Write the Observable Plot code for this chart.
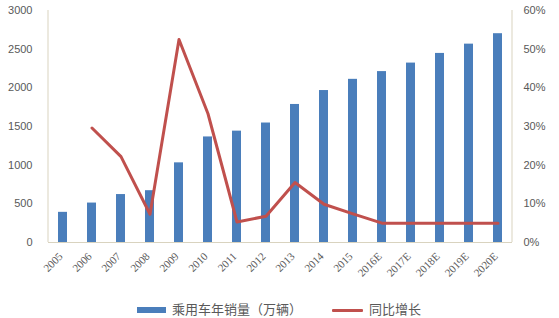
<!DOCTYPE html>
<html>
<head>
<meta charset="utf-8">
<script src="https://cdn.jsdelivr.net/npm/d3@7"></script>
<script src="https://cdn.jsdelivr.net/npm/@observablehq/plot@0.6"></script>
<style>
  html, body { margin: 0; padding: 0; background: #fff; }
  #chart { width: 559px; height: 318px; position: relative; overflow: hidden; }
  .legend { position: absolute; left: 0; top: 299px; width: 559px; height: 19px;
    font-family: "Noto Sans CJK SC", sans-serif; font-size: 13px; color: #595959; }
  .legend .item { position: absolute; top: 0; line-height: 19px; white-space: nowrap; }
  .legend .sw { display: inline-block; vertical-align: middle; margin-right: 6px; }
</style>
</head>
<body>
<div id="chart"></div>
<script>
const years = ["2005","2006","2007","2008","2009","2010","2011","2012","2013","2014","2015","2016E","2017E","2018E","2019E","2020E"];
const sales = [390, 510, 620, 670, 1030, 1365, 1440, 1545, 1785, 1965, 2110, 2210, 2320, 2445, 2565, 2700];
const growthYears = ["2006","2007","2008","2009","2010","2011","2012","2013","2014","2015","2016E","2017E","2018E","2019E","2020E"];
const growth = [29.6, 22.2, 7.3, 52.5, 33.3, 5.3, 6.8, 15.5, 9.9, 7.4, 5, 5, 5, 5, 5];
const leftTicks = [0, 500, 1000, 1500, 2000, 2500, 3000];
const rightTicks = [0, 10, 20, 30, 40, 50, 60];
const seriesNames = ["乘用车年销量（万辆）", "同比增长"];

const k = 3000 / 60; // percent -> left axis units
const barData = years.map((y, i) => ({year: y, value: sales[i]}));
const lineData = growthYears.map((y, i) => ({year: y, pct: growth[i], v: growth[i] * k}));

const axisColor = "#d9d3bf";
const textColor = "#595959";

const plot = Plot.plot({
  width: 559,
  height: 299,
  marginTop: 10,
  marginBottom: 57,
  marginLeft: 48,
  marginRight: 47,
  style: {fontFamily: "Liberation Sans, Arial, sans-serif", fontSize: "11px", color: textColor, background: "#fff"},
  x: {domain: years, paddingInner: 0.68, paddingOuter: 0.34, label: null},
  y: {domain: [0, 3000], label: null},
  marks: [
    Plot.barY(barData, {x: "year", y: "value", fill: "#4a7ebb"}),
    Plot.ruleY([0], {stroke: axisColor}),
    Plot.axisY(leftTicks, {anchor: "left", tickSize: 0, tickPadding: 16, fontSize: 11, fill: textColor, label: null, tickFormat: d3.format("d")}),
    Plot.axisY(rightTicks.map(d => d * k), {anchor: "right", tickSize: 0, tickPadding: 11, fontSize: 11, fill: textColor, label: null, tickFormat: d => Math.round(d / k) + "%"}),
    Plot.axisX({tickRotate: -45, tickSize: 0, tickPadding: 12, dx: -2, fontSize: 11, fontFamily: "Liberation Serif, Times New Roman, serif", fill: textColor, label: null}),
    Plot.line(lineData, {x: "year", y: "v", stroke: "#c0504d", strokeWidth: 3, strokeLinejoin: "round"})
  ]
});
document.getElementById("chart").appendChild(plot);

// axis frame lines (left and right) drawn with plot's own scales
const xs = plot.scale("x"), ys = plot.scale("y");
const svg = d3.select(plot);
const x0 = xs.range[0], x1 = xs.range[1];
const yTop = ys.apply(3000), yBot = ys.apply(0);
svg.append("line").attr("x1", x0).attr("x2", x0).attr("y1", yTop).attr("y2", yBot).attr("stroke", axisColor);
svg.append("line").attr("x1", x1).attr("x2", x1).attr("y1", yTop).attr("y2", yBot).attr("stroke", axisColor);

const legend = document.createElement("div");
legend.className = "legend";
legend.innerHTML =
  `<div class="item" style="left:137px"><span class="sw" style="width:29px;height:6px;background:#4a7ebb"></span>${seriesNames[0]}</div>` +
  `<div class="item" style="left:332px"><span class="sw" style="width:31px;height:3px;background:#c0504d;border-radius:1px"></span>${seriesNames[1]}</div>`;
document.getElementById("chart").appendChild(legend);
</script>
</body>
</html>
